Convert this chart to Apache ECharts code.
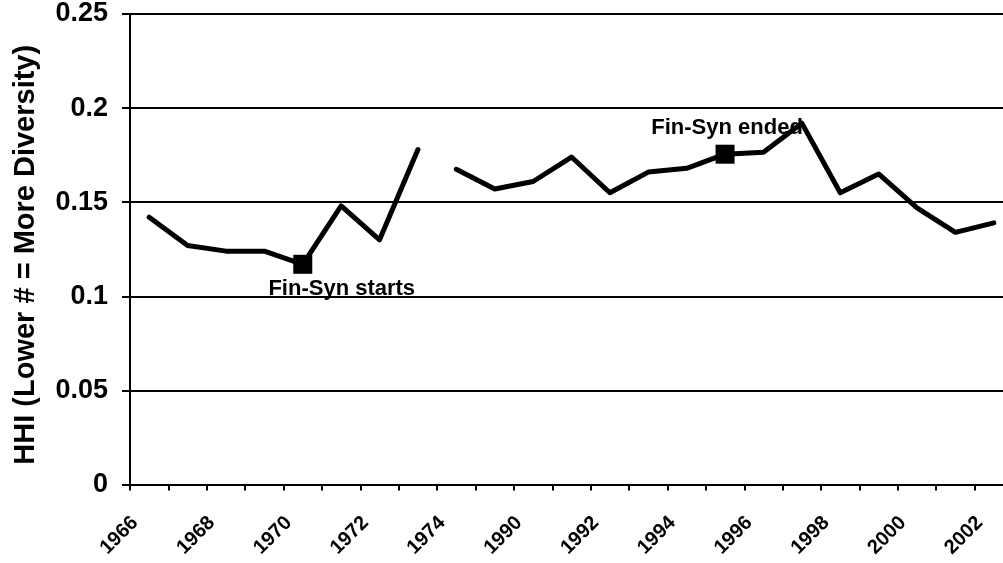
<!DOCTYPE html>
<html>
<head>
<meta charset="utf-8">
<script src="https://cdn.jsdelivr.net/npm/echarts@6/dist/echarts.min.js"></script>
<style>
html,body{margin:0;padding:0;background:#fff;overflow:hidden;}
#c{width:1013px;height:563px;}
</style>
</head>
<body>
<div id="c"></div>
<script>
// Period 1 (before the break)
const years1 = ['1966','1967','1968','1969','1970','1971','1972','1973'];
const hhi1 = [0.142, 0.127, 0.124, 0.124, 0.117, 0.148, 0.130, 0.178];
// Period 2 (after the break)
const years2 = ['1974','1989','1990','1991','1992','1993','1994','1995','1996','1997','1998','1999','2000','2001','2002'];
const hhi2 = [0.1675, 0.157, 0.161, 0.174, 0.155, 0.166, 0.168, 0.1755, 0.1765, 0.192, 0.155, 0.165, 0.147, 0.134, 0.139];
// Annotations
const annotYears = ['1970', '1995'];
const annotTexts = ['Fin-Syn starts', 'Fin-Syn ended'];
const yTicks = [0, 0.05, 0.1, 0.15, 0.2, 0.25];

const categories = years1.concat(years2);
const s1 = hhi1.concat(years2.map(() => null));
const s2 = years1.map(() => null).concat(hhi2);
const lookup = {};
years1.forEach((y, i) => lookup[y] = hhi1[i]);
years2.forEach((y, i) => lookup[y] = hhi2[i]);

const FONT = '"Liberation Sans", Arial, sans-serif';
const lineStyle = {color: '#000', width: 5, cap: 'round', join: 'round', opacity: 1};

const annotData = annotYears.map((y, i) => ({
  value: [y, lookup[y]],
  label: i === 0
    ? {show: true, formatter: annotTexts[i], position: 'bottom', offset: [39, -2], distance: 6}
    : {show: true, formatter: annotTexts[i], position: 'top', offset: [2, 0], distance: 6}
}));

const chart = echarts.init(document.getElementById('c'), null, {renderer: 'canvas'});
chart.setOption({
  animation: false,
  backgroundColor: '#fff',
  grid: {left: 130, right: 0, top: 14, bottom: 78.5, containLabel: false},
  xAxis: {
    type: 'category',
    data: categories,
    boundaryGap: true,
    axisLine: {lineStyle: {color: '#000', width: 2}},
    axisTick: {show: true, interval: 0, length: 6, lineStyle: {color: '#000', width: 2}},
    axisLabel: {
      interval: 1, rotate: 45, margin: 21, padding: [0, 20, 0, 0],
      color: '#000', fontFamily: FONT, fontWeight: 'bold', fontSize: 20
    },
    splitLine: {show: false}
  },
  yAxis: {
    type: 'value',
    min: yTicks[0], max: yTicks[yTicks.length - 1], interval: 0.05,
    name: 'HHI (Lower # = More Diversity)',
    nameLocation: 'middle', nameGap: 90,
    nameTextStyle: {color: '#000', fontFamily: FONT, fontWeight: 'bold', fontSize: 29, padding: [0, 11, 0, 0]},
    axisLine: {show: true, lineStyle: {color: '#000', width: 2}},
    axisTick: {show: true, length: 8, lineStyle: {color: '#000', width: 2}},
    axisLabel: {color: '#000', fontFamily: FONT, fontWeight: 'bold', fontSize: 27, margin: 22},
    splitLine: {show: true, lineStyle: {color: '#000', width: 2}}
  },
  series: [
    {type: 'line', data: s1, symbol: 'none', lineStyle: lineStyle, connectNulls: false, z: 3},
    {type: 'line', data: s2, symbol: 'none', lineStyle: lineStyle, connectNulls: false, z: 3},
    {
      type: 'scatter', data: annotData, symbol: 'rect', symbolSize: 19,
      itemStyle: {color: '#000', opacity: 1}, z: 4,
      label: {color: '#000', fontFamily: FONT, fontWeight: 'bold', fontSize: 22, opacity: 1}
    }
  ]
});
</script>
</body>
</html>
